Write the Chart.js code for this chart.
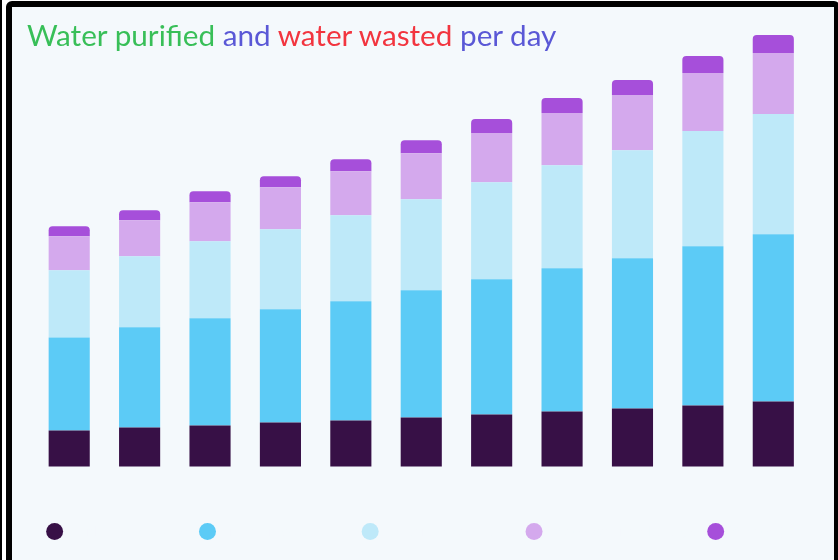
<!DOCTYPE html>
<html>
<head>
<meta charset="utf-8">
<script src="https://cdn.jsdelivr.net/npm/chart.js@4"></script>
<style>
  html, body { margin: 0; padding: 0; background: #fff; width: 838px; height: 560px; overflow: hidden; }
  .edge { position: absolute; left: 0; top: 0; width: 2px; height: 560px; background: #000; }
  .frame {
    position: absolute; left: 6px; top: 1px; width: 822px; height: 600px;
    border: 6px solid #000; border-radius: 6px 6px 0 0; background: #f4f9fc;
  }
  .title {
    position: absolute; left: 27px; top: 17px; margin: 0;
    font-family: Lato, sans-serif; font-size: 29.7px; line-height: 1.2; white-space: nowrap;
  }
  .chart-box { position: absolute; left: 12px; top: 7px; width: 816px; height: 553px; }
</style>
</head>
<body>
<div class="edge"></div>
<div class="frame"></div>
<div class="chart-box"><canvas id="waterChart"></canvas></div>
<p class="title"><span style="color:#38bf58">Water purified</span> <span style="color:#5a58d6">and</span> <span style="color:#f2353f">water wasted</span> <span style="color:#5a58d6">per day</span></p>
<script>
// days (x categories)
const days = ['Day 1','Day 2','Day 3','Day 4','Day 5','Day 6','Day 7','Day 8','Day 9','Day 10','Day 11'];

// series names (legend text is drawn in the background colour, as in the original)
const seriesNames = ['Drinking water used','Irrigation water usage','Industrial water usage','Water lost from leakages','Wasted (L)'];

// series values, bottom to top
const drinking   = [36, 39, 41, 44, 46, 49, 52, 55, 58, 61, 65];
const irrigation = [93, 100, 107, 113, 119, 127, 135, 143, 150, 159, 167];
const industrial = [67, 71, 77, 80, 86, 91, 97, 103, 108, 115, 120];
const leakage    = [34, 36, 39, 42, 44, 46, 49, 52, 55, 58, 61];
const wasted     = [10, 10, 11, 11, 12, 13, 14, 15, 15, 17, 18];

const colors = ['#371046', '#5ccbf6', '#bee9f9', '#d4a9ed', '#a64fda'];
const bg = '#f4f9fc';

const seriesData = [drinking, irrigation, industrial, leakage, wasted];

const ctx = document.getElementById('waterChart');
new Chart(ctx, {
  type: 'bar',
  data: {
    labels: days,
    datasets: seriesData.map((vals, i) => ({
      label: seriesNames[i],
      data: vals,
      backgroundColor: colors[i],
      borderWidth: 0,
      borderRadius: i === seriesData.length - 1 ? {topLeft: 4, topRight: 4, bottomLeft: 0, bottomRight: 0} : 0,
      borderSkipped: false,
      barPercentage: 0.73,
      categoryPercentage: 0.8
    }))
  },
  options: {
    responsive: true,
    maintainAspectRatio: false,
    animation: false,
    layout: { padding: { top: 28, left: 22, right: 19.5, bottom: 11.4 } },
    scales: {
      x: { stacked: true, display: false },
      y: { stacked: true, display: false, min: -48, max: 431 }
    },
    plugins: {
      title: { display: false },
      tooltip: { enabled: false },
      legend: {
        position: 'bottom',
        labels: {
          usePointStyle: true,
          pointStyle: 'circle',
          boxWidth: 12,
          boxHeight: 12,
          padding: 10,
          color: bg,
          font: { family: 'Lato', size: 14 }
        }
      }
    }
  }
});
</script>
</body>
</html>
